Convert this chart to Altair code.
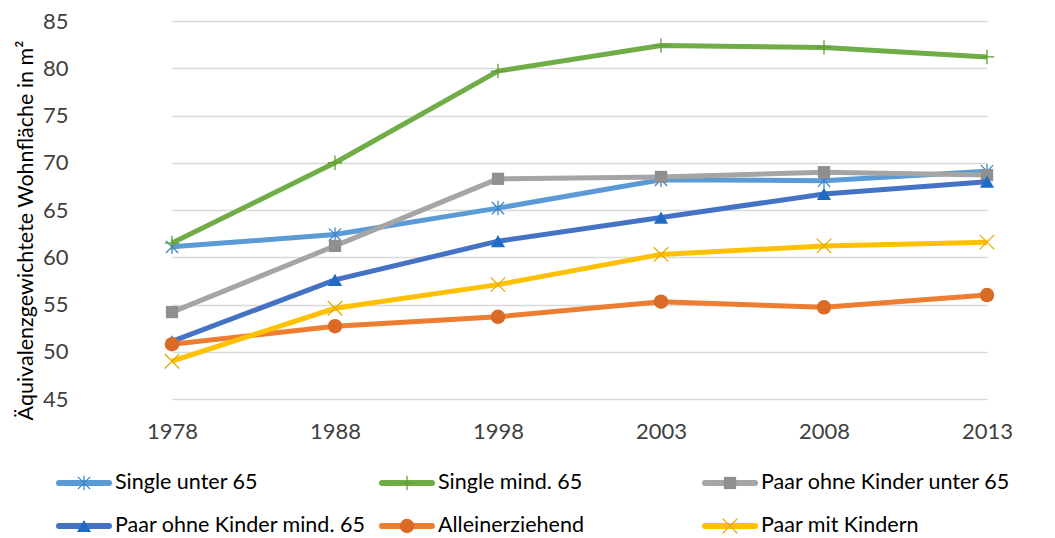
import altair as alt
import pandas as pd

# Survey years (shown as evenly spaced categories)
years = ["1978", "1988", "1998", "2003", "2008", "2013"]

series = [
    "Single unter 65",
    "Single mind. 65",
    "Paar ohne Kinder unter 65",
    "Paar ohne Kinder mind. 65",
    "Alleinerziehend",
    "Paar mit Kindern",
]

# Equivalence-weighted living space in m² per household type
single_unter_65 = [61.1, 62.4, 65.2, 68.2, 68.1, 69.1]
single_mind_65 = [61.5, 70.0, 79.7, 82.4, 82.2, 81.2]
paar_ohne_kinder_unter_65 = [54.2, 61.2, 68.3, 68.5, 69.0, 68.7]
paar_ohne_kinder_mind_65 = [51.1, 57.6, 61.7, 64.2, 66.7, 68.0]
alleinerziehend = [50.8, 52.7, 53.7, 55.3, 54.7, 56.0]
paar_mit_kindern = [49.0, 54.6, 57.1, 60.3, 61.2, 61.6]

values = [
    single_unter_65,
    single_mind_65,
    paar_ohne_kinder_unter_65,
    paar_ohne_kinder_mind_65,
    alleinerziehend,
    paar_mit_kindern,
]

line_colors = ["#5B9BD5", "#70AD47", "#A5A5A5", "#4472C4", "#ED7D31", "#FFC000"]
marker_colors = ["#3F87CB", "#5E9E35", "#8F8F8F", "#1F6CC4", "#D96B27", "#E6AC00"]

ASTERISK = "M0,-1L0,1M-0.85,-0.85L0.85,0.85M-0.85,0.85L0.85,-0.85"
PLUS = "M0,-1L0,1M-1,0L1,0"
XMARK = "M-1,-1L1,1M-1,1L1,-1"

# (shape, filled, size)
markers = [
    (ASTERISK, False, 210),
    (PLUS, False, 210),
    ("square", True, 150),
    ("triangle-up", True, 200),
    ("circle", True, 210),
    (XMARK, False, 210),
]

rows = []
for name, vals in zip(series, values):
    for yr, v in zip(years, vals):
        rows.append({"series": name, "year": yr, "value": v})
df = pd.DataFrame(rows)

legend_df = pd.DataFrame({"series": series, "idx": list(range(len(series)))})

FONT = "Lato"
TEXT_COLOR = "#404040"

x_enc = alt.X(
    "year:O",
    sort=years,
    scale=alt.Scale(type="point", range=[81, 896], padding=0),
    axis=alt.Axis(
        title=None,
        labelAngle=0,
        labelFontSize=22,
        labelFont=FONT,
        labelColor=TEXT_COLOR,
        labelPadding=22,
        ticks=False,
        domain=False,
        grid=False,
    ),
)
y_enc = alt.Y(
    "value:Q",
    scale=alt.Scale(domain=[45, 85], nice=False, zero=False),
    axis=alt.Axis(
        title="Äquivalenzgewichtete Wohnfläche in m²",
        titleFont=FONT,
        titleFontSize=21.5,
        titleFontWeight="normal",
        titleColor="#000000",
        titleAngle=270,
        titleX=-59,
        titleY=209,
        titleAlign="center",
        titleBaseline="alphabetic",
        values=list(range(45, 90, 5)),
        labelFontSize=22,
        labelFont=FONT,
        labelColor=TEXT_COLOR,
        labelPadding=23,
        ticks=False,
        domain=False,
        grid=True,
        gridColor="#D9D9D9",
        gridWidth=1.5,
    ),
)

layers = []
for i, name in enumerate(series):
    shape, filled, size = markers[i]
    base = alt.Chart(df).transform_filter(alt.datum.series == name)
    layers.append(
        base.mark_line(color=line_colors[i], strokeWidth=5).encode(x=x_enc, y=y_enc)
    )
    if filled:
        pt = base.mark_point(shape=shape, filled=True, size=size,
                             color=marker_colors[i], opacity=1)
    else:
        pt = base.mark_point(shape=shape, filled=False, size=size,
                             color=marker_colors[i], strokeWidth=1.3, opacity=1)
    layers.append(pt.encode(x=x_enc, y=y_enc))

# Legend below the plot: three columns, two rows
legend_base = alt.Chart(legend_df).transform_calculate(
    col="datum.idx % 3",
    row="floor(datum.idx / 3)",
).transform_calculate(
    cx="-7 + 323 * datum.col",
    cy="462 + 43 * datum.row",
).transform_calculate(
    x0="datum.cx - 25",
    x1="datum.cx + 25",
    tx="datum.cx + 31",
)

for i, name in enumerate(series):
    shape, filled, size = markers[i]
    lb = legend_base.transform_filter(alt.datum.series == name)
    layers.append(
        lb.mark_rule(color=line_colors[i], strokeWidth=6, strokeCap="round").encode(
            x=alt.X("x0:Q", scale=None),
            x2="x1:Q",
            y=alt.Y("cy:Q", scale=None),
        )
    )
    if filled:
        lp = lb.mark_point(shape=shape, filled=True, size=size,
                           color=marker_colors[i], opacity=1)
    else:
        lp = lb.mark_point(shape=shape, filled=False, size=size,
                           color=marker_colors[i], strokeWidth=1.3, opacity=1)
    layers.append(
        lp.encode(x=alt.X("cx:Q", scale=None), y=alt.Y("cy:Q", scale=None))
    )

layers.append(
    legend_base.mark_text(
        align="left", baseline="middle", font=FONT, fontSize=21.5, color="#000000"
    ).encode(
        x=alt.X("tx:Q", scale=None),
        y=alt.Y("cy:Q", scale=None),
        text="series:N",
    )
)

chart = (
    alt.layer(*layers)
    .properties(
        width=964,
        height=378,
        autosize=alt.AutoSizeParams(type="none"),
        padding={"left": 91, "top": 21, "right": 0, "bottom": 139},
        background="#FFFFFF",
    )
    .configure_view(stroke=None)
)

chart.save("out.html", embed_options={"renderer": "svg", "actions": False})
